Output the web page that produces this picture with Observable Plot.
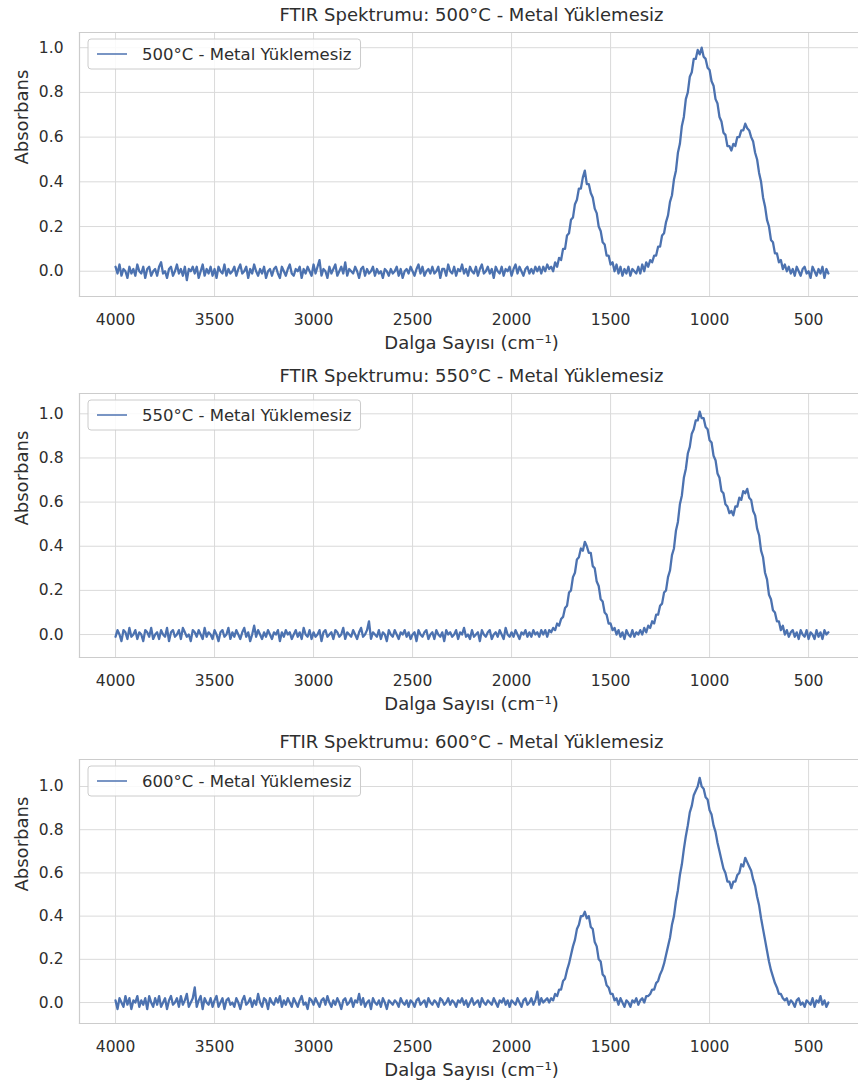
<!DOCTYPE html>
<html>
<head>
<meta charset="utf-8">
<script src="https://cdn.jsdelivr.net/npm/d3@7"></script>
<script src="https://cdn.jsdelivr.net/npm/@observablehq/plot@0.6"></script>
<style>
  html, body { margin: 0; padding: 0; background: #fff; }
  body { width: 858px; height: 1084px; overflow: hidden; position: relative; font-family: "DejaVu Sans", sans-serif; }
  .panel { position: absolute; left: 0; }
</style>
</head>
<body>
<div id="p0" class="panel" style="top:0px"></div>
<div id="p1" class="panel" style="top:361px"></div>
<div id="p2" class="panel" style="top:727px"></div>
<script>
// ---------------- data ----------------
// wavenumber sampling grid (cm^-1), 4000 -> 400 every 10
const wavenumbers = d3.range(4000, 399, -10);

const absorb500 = [
  0.02,-0.01,0.03,-0.02,0.01,0.00,-0.03,0.02,-0.01,0.01,
  -0.02,0.03,0.00,-0.01,0.02,-0.03,0.01,0.02,-0.02,0.00,
  0.01,-0.02,0.02,0.04,-0.01,0.00,-0.03,0.01,0.02,-0.02,
  0.00,0.03,-0.01,0.01,-0.02,0.02,-0.04,0.01,0.00,0.02,
  -0.01,0.02,-0.03,0.00,0.03,-0.02,0.01,-0.01,0.02,-0.02,
  0.01,-0.03,0.02,0.00,-0.01,0.03,-0.02,0.01,-0.01,0.00,
  0.02,-0.02,0.01,0.03,-0.01,0.00,0.02,-0.03,0.01,-0.01,
  0.03,0.00,-0.02,0.01,-0.01,0.02,-0.03,0.00,0.01,-0.02,
  0.01,0.02,-0.01,-0.03,0.02,0.00,-0.02,0.01,0.03,-0.01,
  -0.02,0.01,0.00,0.02,-0.03,0.01,-0.01,0.02,0.00,-0.02,
  0.03,-0.01,0.02,0.05,-0.02,0.01,0.00,-0.03,0.02,-0.01,
  0.01,0.03,-0.02,0.00,0.02,-0.01,0.04,-0.02,0.01,0.00,
  -0.01,0.02,0.00,-0.03,0.01,0.02,-0.02,0.01,-0.01,0.00,
  0.02,-0.02,0.01,-0.01,0.00,-0.03,0.01,0.00,-0.02,0.01,
  -0.01,0.00,0.02,-0.02,0.01,-0.03,0.00,0.01,-0.01,0.02,
  0.00,-0.02,0.01,0.03,-0.01,0.02,-0.02,0.00,0.01,-0.01,
  0.02,-0.01,0.00,0.02,-0.03,0.01,0.01,-0.02,0.03,0.00,
  -0.01,0.02,-0.02,0.01,0.00,0.03,-0.01,0.01,-0.02,0.02,
  0.00,-0.01,0.02,-0.02,0.01,0.03,-0.01,0.00,0.02,-0.01,
  0.01,-0.03,0.02,0.00,-0.01,0.02,-0.02,0.01,0.00,0.02,
  -0.02,0.01,0.03,-0.01,0.02,0.00,-0.02,0.01,0.02,-0.01,
  0.01,-0.01,0.02,0.00,0.02,-0.01,0.02,0.00,0.03,0.01,
  0.02,0.00,0.04,0.02,0.06,0.05,0.10,0.10,0.16,0.17,
  0.23,0.24,0.30,0.32,0.37,0.37,0.42,0.45,0.39,0.39,
  0.35,0.33,0.28,0.26,0.20,0.18,0.13,0.12,0.07,0.07,
  0.03,0.04,0.00,0.03,-0.01,0.02,-0.02,0.01,-0.01,0.02,
  -0.02,0.01,0.00,-0.01,0.02,-0.01,0.03,0.00,0.04,0.02,
  0.05,0.04,0.07,0.07,0.11,0.11,0.16,0.17,0.22,0.25,
  0.31,0.34,0.41,0.45,0.53,0.57,0.65,0.69,0.77,0.80,
  0.87,0.89,0.95,0.95,0.99,0.97,1.00,0.96,0.95,0.91,
  0.90,0.85,0.83,0.77,0.75,0.69,0.67,0.62,0.61,0.56,
  0.56,0.54,0.57,0.56,0.60,0.60,0.63,0.63,0.66,0.64,
  0.63,0.60,0.58,0.53,0.50,0.44,0.40,0.33,0.29,0.23,
  0.20,0.14,0.13,0.08,0.08,0.04,0.05,0.01,0.03,0.00,
  0.02,-0.01,0.01,-0.02,0.02,0.00,-0.02,0.01,0.02,-0.01,
  0.00,-0.03,0.02,0.00,-0.02,0.01,-0.01,0.02,-0.03,0.01,
  -0.01
];

const absorb550 = [
  -0.01,0.02,0.00,-0.03,0.02,0.01,-0.02,0.03,-0.01,0.00,
  0.02,-0.02,0.01,0.00,-0.03,0.02,0.01,-0.01,0.03,-0.02,
  0.00,0.01,-0.02,0.02,0.00,-0.01,0.03,-0.03,0.01,0.02,
  -0.01,0.00,0.02,-0.02,0.03,0.01,-0.01,0.00,-0.03,0.02,
  0.01,-0.01,0.02,0.00,-0.02,0.03,-0.01,0.01,0.00,-0.02,
  0.02,0.00,-0.03,0.01,0.02,-0.01,0.00,0.03,-0.02,0.01,
  -0.01,0.02,0.00,-0.02,0.01,0.03,-0.01,0.01,-0.03,0.00,
  0.04,-0.01,0.02,0.00,-0.02,0.01,-0.01,0.02,0.00,-0.02,
  0.01,0.00,0.02,-0.03,0.01,-0.01,0.02,0.00,0.01,-0.02,
  0.00,0.02,-0.01,0.01,-0.02,0.03,0.00,-0.01,0.02,-0.02,
  0.01,-0.01,0.00,0.02,-0.03,0.01,0.02,-0.01,0.00,0.01,
  -0.02,0.02,0.01,-0.01,0.00,0.03,-0.02,0.01,0.00,-0.01,
  0.02,0.00,-0.02,0.01,0.03,-0.01,0.00,0.02,0.06,-0.02,
  0.01,0.00,-0.01,0.02,-0.02,0.01,0.00,-0.03,0.02,0.00,
  -0.01,0.02,0.00,-0.02,0.01,0.00,0.02,-0.01,0.01,-0.02,
  0.00,0.01,-0.03,0.02,0.00,-0.01,0.01,0.02,-0.02,0.00,
  0.01,-0.02,0.02,0.00,-0.01,0.01,-0.03,0.02,0.00,0.01,
  -0.01,0.00,0.02,-0.02,0.01,0.00,0.03,-0.01,0.00,-0.02,
  0.02,-0.01,0.00,0.01,-0.03,0.02,0.00,-0.01,0.01,0.02,
  -0.02,0.00,0.01,-0.01,0.02,0.00,-0.02,0.03,0.00,-0.01,
  0.01,-0.01,0.02,0.00,-0.02,0.01,0.00,0.02,-0.01,0.01,
  -0.01,0.02,0.00,0.01,-0.01,0.02,0.00,0.02,-0.01,0.02,
  0.01,0.03,0.02,0.05,0.04,0.07,0.08,0.12,0.13,0.19,
  0.20,0.26,0.28,0.34,0.35,0.39,0.38,0.42,0.40,0.37,
  0.37,0.31,0.30,0.24,0.22,0.16,0.15,0.10,0.09,0.05,
  0.05,0.02,0.03,0.00,0.02,-0.01,0.01,-0.02,0.02,0.00,
  -0.01,0.02,-0.01,0.01,0.00,0.02,0.00,0.03,0.01,0.04,
  0.03,0.06,0.05,0.09,0.09,0.13,0.14,0.19,0.20,0.26,
  0.29,0.36,0.39,0.47,0.51,0.59,0.63,0.71,0.75,0.82,
  0.85,0.91,0.93,0.97,0.97,1.01,0.98,0.98,0.94,0.93,
  0.88,0.87,0.81,0.79,0.73,0.71,0.65,0.64,0.59,0.58,
  0.55,0.56,0.54,0.58,0.58,0.62,0.61,0.65,0.64,0.66,
  0.62,0.61,0.56,0.54,0.48,0.45,0.38,0.35,0.28,0.25,
  0.18,0.16,0.11,0.10,0.06,0.06,0.02,0.04,0.00,0.02,
  -0.01,0.01,0.02,-0.01,0.01,-0.02,0.02,0.00,-0.01,0.02,
  -0.02,0.01,0.00,-0.02,0.02,-0.01,0.01,-0.02,0.02,0.00,
  0.01
];

const absorb600 = [
  0.01,-0.03,0.02,0.00,-0.02,0.03,-0.01,0.02,-0.03,0.01,
  0.00,0.03,-0.02,0.01,-0.01,0.02,-0.03,0.03,0.00,-0.02,
  0.02,-0.01,0.03,-0.02,0.00,0.02,-0.03,0.01,0.03,-0.01,
  0.00,0.02,-0.02,0.03,-0.01,0.01,0.04,-0.02,0.00,0.02,
  0.07,-0.02,0.01,0.03,-0.03,0.02,0.00,-0.01,0.02,-0.02,
  0.01,0.03,-0.02,0.00,0.02,-0.03,0.01,0.02,-0.01,0.00,
  -0.02,0.02,0.00,-0.03,0.01,0.03,-0.01,0.00,0.02,-0.02,
  0.01,-0.01,0.04,0.00,-0.02,0.02,0.01,-0.03,0.02,0.00,
  -0.01,0.02,0.00,0.03,-0.02,0.01,-0.01,0.02,0.00,-0.02,
  0.02,0.00,-0.02,0.01,0.03,-0.01,0.00,-0.03,0.02,0.01,
  -0.01,0.02,0.00,-0.02,0.01,0.02,-0.01,0.03,0.00,-0.02,
  0.01,-0.01,0.02,0.00,-0.03,0.01,0.02,-0.01,0.00,0.02,
  -0.02,0.01,0.00,0.04,-0.01,0.02,-0.02,0.00,0.01,-0.03,
  0.02,0.00,-0.01,0.01,-0.02,0.02,0.00,-0.03,0.01,0.00,
  -0.01,0.01,0.00,-0.02,0.02,0.00,-0.01,0.01,-0.02,0.01,
  0.00,-0.02,0.01,0.02,-0.01,0.00,0.01,-0.02,0.02,0.00,
  -0.01,0.01,0.00,-0.02,0.02,0.01,-0.01,0.00,0.02,-0.01,
  0.01,0.00,-0.02,0.01,0.00,0.02,-0.01,0.01,-0.02,0.00,
  0.02,-0.01,0.00,0.01,-0.02,0.02,0.00,-0.01,0.01,0.00,
  -0.01,0.02,0.00,-0.02,0.01,0.00,0.02,-0.01,0.01,-0.02,
  0.01,0.00,-0.01,0.02,0.00,-0.02,0.01,0.02,-0.01,0.00,
  0.02,-0.01,0.01,0.05,-0.01,0.02,0.00,0.01,0.02,0.00,
  0.02,0.01,0.04,0.03,0.06,0.06,0.10,0.11,0.15,0.18,
  0.22,0.26,0.29,0.34,0.36,0.40,0.40,0.42,0.39,0.40,
  0.35,0.34,0.28,0.26,0.20,0.19,0.13,0.12,0.08,0.07,
  0.04,0.04,0.01,0.02,-0.01,0.02,0.00,-0.02,0.01,0.00,
  -0.02,0.01,0.00,0.02,-0.01,0.01,0.02,0.00,0.03,0.03,
  0.04,0.06,0.06,0.09,0.10,0.13,0.15,0.18,0.22,0.26,
  0.30,0.36,0.40,0.47,0.52,0.59,0.64,0.71,0.77,0.82,
  0.88,0.91,0.96,0.98,1.00,1.04,1.00,0.99,0.95,0.94,
  0.89,0.87,0.82,0.79,0.74,0.70,0.66,0.62,0.60,0.56,
  0.56,0.53,0.56,0.56,0.59,0.60,0.64,0.63,0.67,0.65,
  0.63,0.61,0.57,0.54,0.49,0.45,0.39,0.34,0.29,0.24,
  0.19,0.15,0.12,0.09,0.07,0.04,0.04,0.02,0.01,0.02,
  -0.01,0.01,0.00,-0.02,0.01,0.02,-0.01,0.00,-0.02,0.01,
  0.00,-0.01,0.02,-0.02,0.01,0.00,0.03,-0.01,0.01,-0.02,
  0.00
];

const temperatures = ["500°C", "550°C", "600°C"];
const seriesValues = [absorb500, absorb550, absorb600];
const xTicks = [4000, 3500, 3000, 2500, 2000, 1500, 1000, 500];
const yTicks = [0.0, 0.2, 0.4, 0.6, 0.8, 1.0];
const titlePrefix = "FTIR Spektrumu: ";
const seriesSuffix = " - Metal Yüklemesiz";
const xLabel = "Dalga Sayısı (cm⁻¹)";
const yLabel = "Absorbans";

// ---------------- layout / style ----------------
const W = 858, H = 361;
const ML = 79, MT = 32, MB = 65;
const xDomain = [4182, 248];
const yDomains = [[-0.113, 1.068], [-0.104, 1.092], [-0.097, 1.125]];
const FONT = "'DejaVu Sans', sans-serif";
const LINE_COLOR = "#4c72b0";
const GRID = "#dadada";
const EDGE = "#cccccc";
const TEXT = "#2e2e2e";

function drawPanel(k) {
  const values = seriesValues[k];
  const rows = wavenumbers.map((w, i) => ({w, a: values[i]}));
  const seriesName = temperatures[k] + seriesSuffix;
  const svg = Plot.plot({
    width: W, height: H,
    marginTop: MT, marginBottom: MB, marginLeft: ML, marginRight: 0,
    style: {fontFamily: FONT, fontSize: "15.5px", color: TEXT, background: "#fff", overflow: "visible"},
    x: {domain: xDomain},
    y: {domain: yDomains[k]},
    marks: [
      Plot.gridX(xTicks, {stroke: GRID, strokeOpacity: 1, strokeWidth: 1}),
      Plot.gridY(yTicks, {stroke: GRID, strokeOpacity: 1, strokeWidth: 1}),
      Plot.frame({anchor: "top", stroke: EDGE, strokeWidth: 1.2}),
      Plot.frame({anchor: "bottom", stroke: EDGE, strokeWidth: 1.2}),
      Plot.frame({anchor: "left", stroke: EDGE, strokeWidth: 1.2}),
      Plot.line(rows, {x: "w", y: "a", stroke: LINE_COLOR, strokeWidth: 2.3, strokeLinejoin: "round"}),
      Plot.axisX(xTicks, {tickSize: 0, tickPadding: 17, label: null, tickFormat: d => String(d)}),
      Plot.axisY(yTicks, {tickSize: 0, tickPadding: 16, label: null, tickFormat: d3.format(".1f")}),
      Plot.text([titlePrefix + seriesName], {frameAnchor: "top", dx: 2.5, dy: -17, fontSize: 18, lineAnchor: "middle", fill: TEXT}),
      Plot.text([xLabel], {frameAnchor: "bottom", dx: 2.5, dy: 46.7, fontSize: 18, lineAnchor: "middle", fill: TEXT}),
      Plot.text([yLabel], {frameAnchor: "left", dx: -57, rotate: -90, fontSize: 18, lineAnchor: "middle", fill: TEXT})
    ]
  });
  document.getElementById("p" + k).appendChild(svg);

  // legend (upper left, matplotlib style)
  const s = d3.select(svg);
  const g = s.append("g").attr("font-family", FONT).attr("font-size", 16.5).attr("text-anchor", "start");
  const bx = ML + 9, by = MT + 7, bh = 30, cy = by + bh / 2;
  const box = g.append("rect").attr("x", bx).attr("y", by).attr("height", bh)
    .attr("rx", 3).attr("fill", "#fff").attr("fill-opacity", 0.85)
    .attr("stroke", EDGE).attr("stroke-width", 1);
  g.append("line").attr("x1", bx + 9).attr("x2", bx + 39).attr("y1", cy).attr("y2", cy)
    .attr("stroke", LINE_COLOR).attr("stroke-width", 1.5);
  const t = g.append("text").attr("x", bx + 54).attr("y", cy).attr("dy", "0.35em")
    .attr("text-anchor", "start").attr("fill", TEXT).text(seriesName);
  const tw = t.node().getComputedTextLength();
  box.attr("width", 54 + tw + 9);
}

[0, 1, 2].forEach(drawPanel);
</script>
</body>
</html>
